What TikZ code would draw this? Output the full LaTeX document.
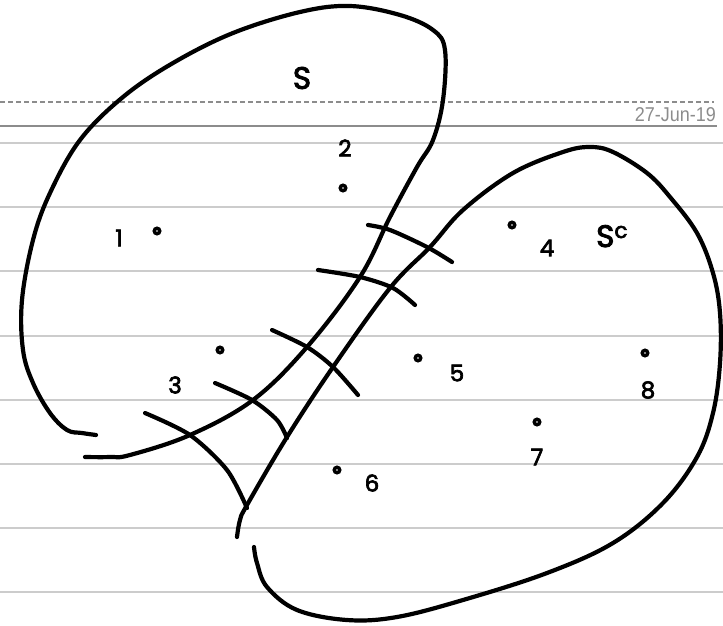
\documentclass[tikz,border=0pt]{standalone}
\usepackage{fontspec}
\setmainfont[FakeBold=3]{Poppins}
\newfontfamily\datefont{Liberation Sans}
\begin{document}
\begin{tikzpicture}[x=1pt,y=-1pt,
  paper/.style={draw=black!20,line width=1.8pt},
  ink/.style={draw=black,line width=4.2pt,line cap=round,line join=round},
  pt/.style={circle,draw=black,fill=white,line width=3.4pt,inner sep=0pt,minimum size=5.5pt},
  lbl/.style={font=\fontsize{23}{23}\selectfont,inner sep=0pt},
  setlbl/.style={font=\fontsize{31}{31}\selectfont,inner sep=0pt}]
\useasboundingbox (0,0) rectangle (723,625);
% paper
\foreach \yy in {143,207,271,336,400,464,528,592}
  \draw[paper] (0,\yy) -- (723,\yy);
\draw[draw=black!45,line width=1.3pt,dash pattern=on 5pt off 3pt] (0,102) -- (714,102);
\draw[draw=black!45,line width=1.8pt] (0,126) -- (717,126);
\node[anchor=base east,text=black!45,font=\datefont\fontsize{20}{20}\selectfont,xscale=0.9,inner sep=0pt] (date) at (716,121) {27-Jun-19};
% set S
\draw[ink] plot[smooth,tension=0.6] coordinates {(96,435) (82,433) (67,430) (50,413) (33,383) (23,350) (22,300) (33,240) (50,193) (80,140) (123,97) (173,63) (233,33) (300,12) (350,6) (400,15) (433,30) (445,50) (443,100) (433,140) (417,167) (390,217) (360,277) (307,347) (253,400) (190,435) (130,455) (110,457) (85,457)};
% set S^c
\draw[ink] plot[smooth,tension=0.6] coordinates {(237,537) (240,520) (247,505) (287,437) (333,367) (390,288) (430,247) (463,210) (513,173) (563,152) (590,147) (613,152) (647,173) (670,197) (697,233) (713,273) (720,313) (720,363) (713,413) (697,457) (663,503) (613,543) (547,573) (463,600) (397,617) (347,620) (297,610) (267,587) (257,563) (254,547)};
% cut edges
\draw[ink] plot[smooth] coordinates {(368,225) (390,230) (427,247) (452,262)};
\draw[ink] plot[smooth] coordinates {(318,270) (360,277) (393,288) (415,305)};
\draw[ink] plot[smooth] coordinates {(272,330) (307,347) (333,367) (358,395)};
\draw[ink] plot[smooth] coordinates {(215,383) (252,400) (277,420) (287,438)};
\draw[ink] plot[smooth] coordinates {(145,413) (190,435) (227,470) (247,508)};
% vertices
\node[pt] (v1) at (157,231) {};
\node[pt] (v2) at (343,188) {};
\node[pt] (v3) at (220,350) {};
\node[pt] (v4) at (512,225) {};
\node[pt] (v5) at (418,358) {};
\node[pt] (v6) at (337,470) {};
\node[pt] (v7) at (537,422) {};
\node[pt] (v8) at (645,353) {};
% labels
\node[lbl] (l1) at (119,238) {1};
\node[lbl] (l2) at (345,148) {2};
\node[lbl] (l3) at (175,385) {3};
\node[lbl] (l4) at (547,248) {4};
\node[lbl] (l5) at (457,373) {5};
\node[lbl] (l6) at (372,483) {6};
\node[lbl] (l7) at (537,457) {7};
\node[lbl] (l8) at (648,390) {8};
\node[setlbl] (S) at (302,78) {S};
\node[setlbl,anchor=base west] (Sc) at (596,247) {S\textsuperscript{c}};
\end{tikzpicture}
\end{document}
